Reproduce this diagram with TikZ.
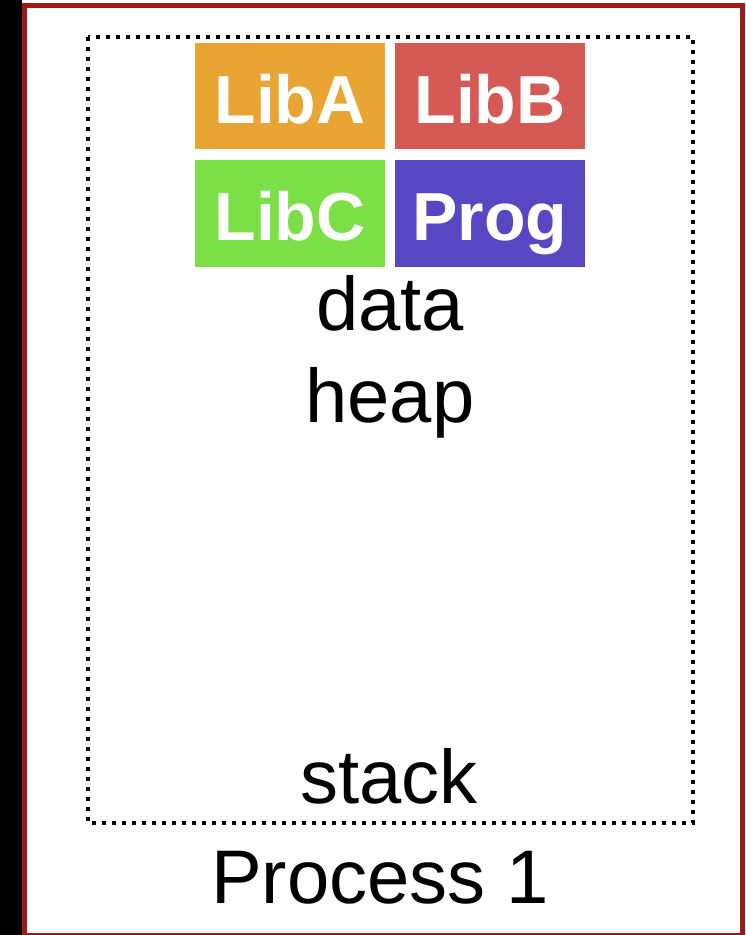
\documentclass[tikz,border=0pt]{standalone}
\usepackage{fontspec}
\setmainfont{Liberation Sans}
\begin{document}
\begin{tikzpicture}[x=1pt,y=-1pt,
  libbox/.style={inner sep=0pt, minimum width=190pt, minimum height=106pt,
    text height=54pt, text depth=0pt, text=white,
    font=\fontsize{68}{68}\selectfont\bfseries},
  seglabel/.style={anchor=base, inner sep=0pt, font=\fontsize{76}{76}\selectfont}
]
% canvas
\useasboundingbox (0,0) rectangle (745,935);
\fill[white] (0,0) rectangle (745,935);
\fill[black] (0,0) rectangle (22,935);
\begin{scope}
  \clip (0,0) rectangle (745,935);
  \draw[line width=5pt, draw={rgb,255:red,158;green,26;blue,26}]
    (24.5,5.5) rectangle (742.5,935.5);
\end{scope}

% address space outline
\draw[line width=4pt, dash pattern=on 4pt off 6pt]
  (88,37) rectangle (693,823);

% mapped images
\definecolor{colA}{RGB}{232,165,52}
\definecolor{colB}{RGB}{213,90,86}
\definecolor{colC}{RGB}{124,223,71}
\definecolor{colP}{RGB}{87,71,195}
\node[libbox, fill=colA] (liba) at (290,96) {LibA};
\node[libbox, fill=colB] (libb) at (490,96) {LibB};
\node[libbox, fill=colC, minimum height=107pt] (libc) at (290,213.5) {LibC};
\node[libbox, fill=colP, minimum height=107pt] (prog) at (490,213.5) {Prog};

% segments
\node[seglabel] (data)  at (390,330) {data};
\node[seglabel] (heap)  at (390,422) {heap};
\node[seglabel] (stack) at (389,803) {stack};
\node[seglabel] (proc)  at (380,903) {Process 1};
\end{tikzpicture}
\end{document}
